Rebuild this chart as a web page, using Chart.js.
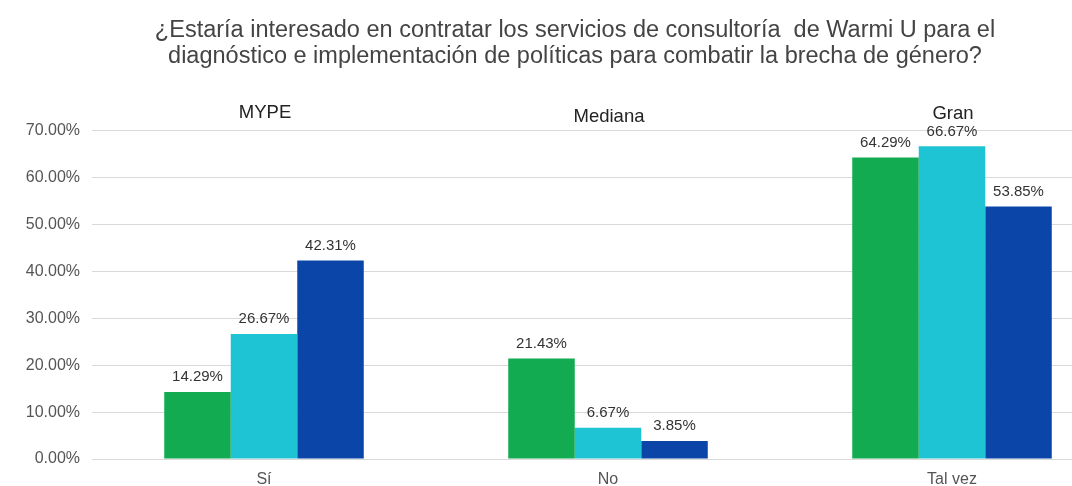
<!DOCTYPE html>
<html>
<head>
<meta charset="utf-8">
<script src="https://cdn.jsdelivr.net/npm/chart.js@4"></script>
<style>
  html, body { margin: 0; padding: 0; background: #fff; overflow: hidden; }
  .wrap { width: 1150px; height: 486px; position: relative; }
</style>
</head>
<body>
<div class="wrap"><canvas id="chart"></canvas></div>
<script>
/* datos */
const categories = ['Sí', 'No', 'Tal vez'];
const seriesNames = ['MYPE', 'Mediana', 'Gran'];
const mype    = [14.29, 21.43, 64.29];
const mediana = [26.67, 6.67, 66.67];
const gran    = [42.31, 3.85, 53.85];
const yTicks  = [0, 10, 20, 30, 40, 50, 60, 70];
const colors  = ['#12ab52', '#1ec4d3', '#0b45a8'];

const FONT = '"Liberation Sans", Arial, sans-serif';

/* etiquetas de valor sobre las barras */
const valueLabels = {
  id: 'valueLabels',
  afterDatasetsDraw(chart) {
    const ctx = chart.ctx;
    ctx.save();
    ctx.font = '15px ' + FONT;
    ctx.fillStyle = '#333';
    ctx.textAlign = 'center';
    ctx.textBaseline = 'middle';
    chart.data.datasets.forEach((ds, i) => {
      chart.getDatasetMeta(i).data.forEach((bar, j) => {
        ctx.fillText(ds.data[j].toFixed(2) + '%', bar.x, bar.y - 15);
      });
    });
    ctx.restore();
  }
};

/* nombres de serie centrados sobre cada grupo */
const groupNames = {
  id: 'groupNames',
  afterDraw(chart) {
    const ctx = chart.ctx;
    const x = chart.scales.x;
    const top = chart.chartArea.top;
    const dy = [-18, -14, -17];
    ctx.save();
    ctx.font = '18.5px ' + FONT;
    ctx.fillStyle = '#222';
    ctx.textAlign = 'center';
    ctx.textBaseline = 'middle';
    seriesNames.forEach((n, i) => {
      ctx.fillText(n, x.getPixelForValue(i) + 1, top + dy[i]);
    });
    ctx.restore();
  }
};

new Chart(document.getElementById('chart'), {
  type: 'bar',
  data: {
    labels: categories,
    datasets: [
      { label: seriesNames[0], data: mype,    backgroundColor: colors[0] },
      { label: seriesNames[1], data: mediana, backgroundColor: colors[1] },
      { label: seriesNames[2], data: gran,    backgroundColor: colors[2] }
    ]
  },
  options: {
    responsive: true,
    maintainAspectRatio: false,
    animation: false,
    layout: { padding: { left: 26, right: 26, top: 0, bottom: 0 } },
    datasets: { bar: { categoryPercentage: 0.58, barPercentage: 1 } },
    plugins: {
      legend: { display: false },
      tooltip: { enabled: false },
      title: {
        display: true,
        text: [
          '¿Estaría interesado en contratar los servicios de consultoría  de Warmi U para el',
          'diagnóstico e implementación de políticas para combatir la brecha de género?'
        ],
        color: '#444',
        font: { family: FONT, size: 23.5, weight: 'normal', lineHeight: 1.08 },
        padding: { top: 18, bottom: 62 }
      }
    },
    scales: {
      x: {
        grid: { display: false },
        border: { display: false },
        ticks: { color: '#555', font: { family: FONT, size: 16 }, padding: 3 },
        afterFit: s => { s.height = 27; }
      },
      y: {
        min: 0,
        max: 70,
        afterBuildTicks: s => { s.ticks = yTicks.map(v => ({ value: v })); },
        grid: { color: '#d9d9d9', drawTicks: false },
        border: { display: false },
        ticks: {
          color: '#555',
          font: { family: FONT, size: 16 },
          padding: 12,
          callback: v => v.toFixed(2) + '%'
        },
        afterFit: s => { s.width = 66; }
      }
    }
  },
  plugins: [valueLabels, groupNames]
});
</script>
</body>
</html>
